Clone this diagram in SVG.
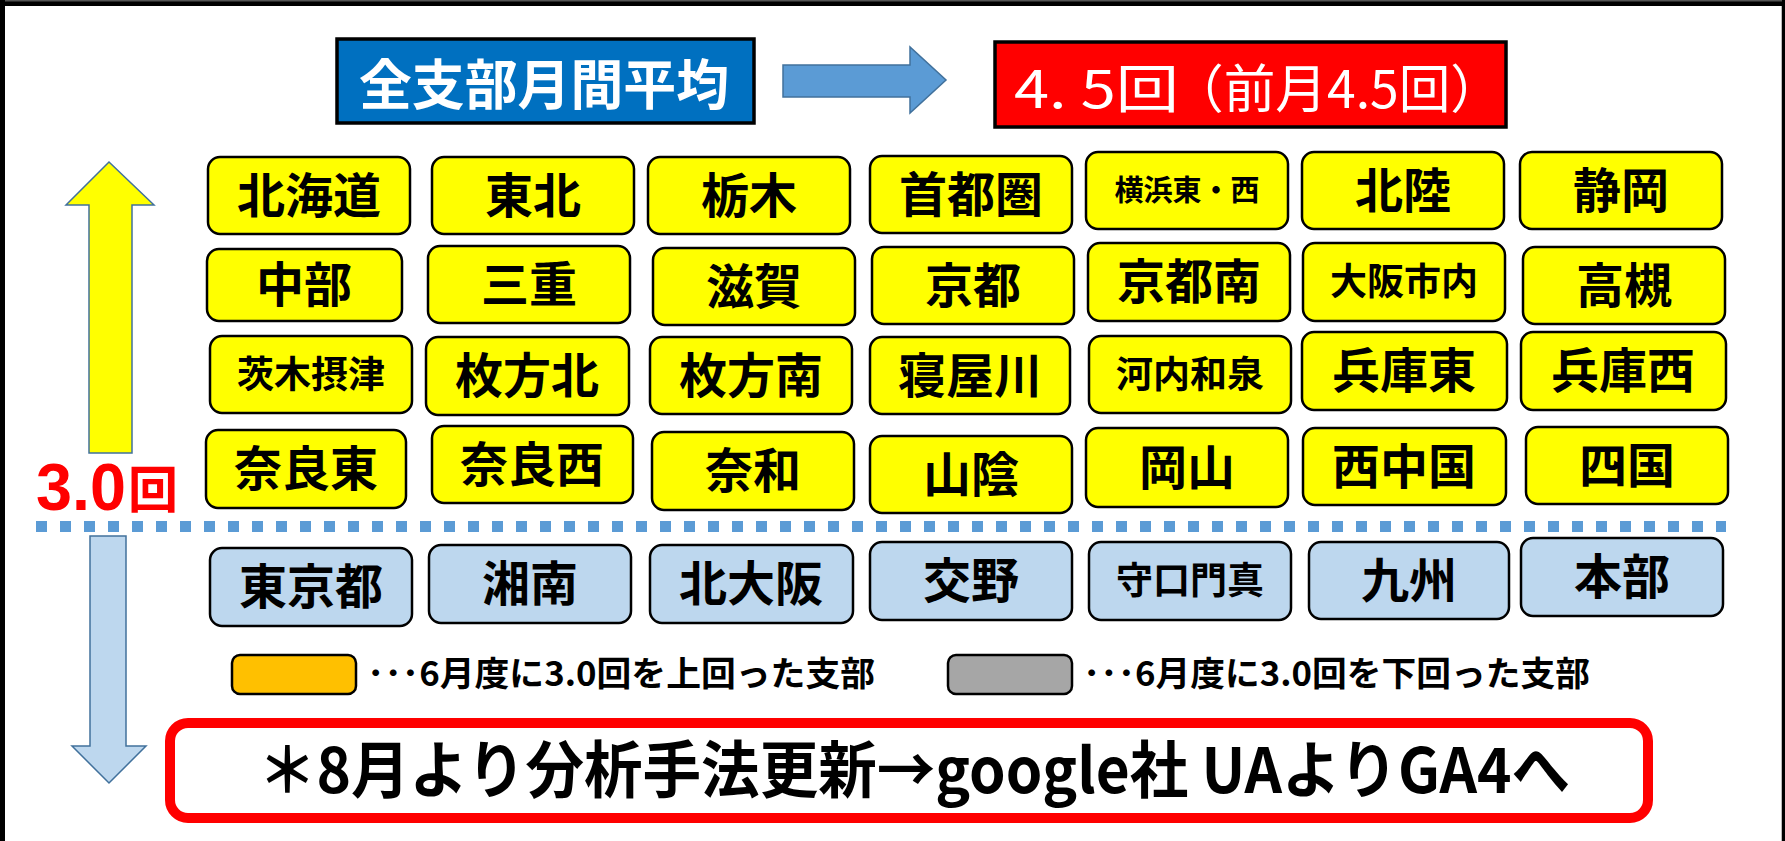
<svg xmlns="http://www.w3.org/2000/svg" width="1785" height="841" viewBox="0 0 1785 841">
<style>
.cjk{font-family:"Noto Sans CJK JP","Noto Sans CJK SC",sans-serif;}
.y{fill:#FFFF00;stroke:#000;stroke-width:2.5;}
.b{fill:#BDD7EE;stroke:#000;stroke-width:2.5;}
.t{font-family:"Noto Sans CJK JP",sans-serif;font-weight:700;font-size:48px;fill:#000;text-anchor:middle;}
.s{font-size:37px;}
.xs{font-size:29px;}
.lg{font-family:"Noto Sans CJK JP",sans-serif;font-weight:700;font-size:34px;fill:#000;}
</style>
<rect x="0" y="0" width="1785" height="841" fill="#fff"/>
<!-- frame -->
<rect x="0" y="0" width="1785" height="6" fill="#000"/>
<rect x="0" y="0" width="1785" height="1.5" fill="#555"/>
<rect x="0" y="0" width="5" height="841" fill="#000"/>
<rect x="1782" y="0" width="3" height="841" fill="#000"/>
<rect x="1781" y="6" width="1" height="835" fill="#bbb"/>

<!-- header -->
<g id="title">
<rect x="337" y="39" width="417" height="84" fill="#0070C0" stroke="#000" stroke-width="3.5"/>
<text x="359" y="105" class="cjk" font-weight="700" font-size="54" fill="#fff" textLength="370" lengthAdjust="spacingAndGlyphs">全支部月間平均</text>
</g>
<g id="value">
<rect x="995" y="42" width="511" height="85" fill="#FF0000" stroke="#000" stroke-width="3.5"/>
<text x="1014" y="108" class="cjk" font-size="52" fill="#fff" textLength="165" lengthAdjust="spacingAndGlyphs">4. 5回</text>
<text x="1172" y="108" class="cjk" font-size="52" fill="#fff" textLength="330" lengthAdjust="spacingAndGlyphs">（前月4.5回）</text>
</g>

<g id="arrows">
<polygon points="783,65 910,65 910,47 946,80 910,113 910,97 783,97" fill="#5B9BD5" stroke="#41719C" stroke-width="1.5"/>
<polygon points="109,162 154,205 132,205 132,453 89,453 89,205 66,205" fill="#FFFF00" stroke="#41719C" stroke-width="1.5"/>
<polygon points="90,536 126,536 126,746 146,746 109,783 72,746 90,746" fill="#BDD7EE" stroke="#41719C" stroke-width="1.5"/>
</g>

<g id="threshold">
<line x1="36" y1="526.5" x2="1726" y2="526.5" stroke="#5B9BD5" stroke-width="11" stroke-dasharray="11 13"/>
<text x="36" y="510" font-family="Liberation Sans,Arial,sans-serif" font-weight="700" font-size="67" fill="#FF0000" textLength="90" lengthAdjust="spacingAndGlyphs">3.0</text>
<text x="128" y="508" class="cjk" font-weight="700" font-size="50" fill="#FF0000">回</text>
</g>

<!-- row 1 -->
<g id="n-hokkaido"><rect class="y" x="208" y="157" width="202" height="77" rx="12"/><text class="t" x="309" y="213">北海道</text></g>
<g id="n-tohoku"><rect class="y" x="432" y="157" width="202" height="77" rx="12"/><text class="t" x="533" y="213">東北</text></g>
<g id="n-tochigi"><rect class="y" x="648" y="157" width="202" height="77" rx="12"/><text class="t" x="749" y="213">栃木</text></g>
<g id="n-shutoken"><rect class="y" x="870" y="156" width="202" height="77" rx="12"/><text class="t" x="971" y="212">首都圏</text></g>
<g id="n-yokohama"><rect class="y" x="1086" y="152" width="202" height="77" rx="12"/><text class="t xs" x="1187" y="201">横浜東・西</text></g>
<g id="n-hokuriku"><rect class="y" x="1302" y="152" width="202" height="77" rx="12"/><text class="t" x="1403" y="208">北陸</text></g>
<g id="n-shizuoka"><rect class="y" x="1520" y="152" width="202" height="77" rx="12"/><text class="t" x="1621" y="208">静岡</text></g>
<!-- row 2 -->
<g id="n-chubu"><rect class="y" x="207" y="249" width="195" height="72" rx="12"/><text class="t" x="304" y="302">中部</text></g>
<g id="n-mie"><rect class="y" x="428" y="246" width="202" height="77" rx="12"/><text class="t" x="529" y="302">三重</text></g>
<g id="n-shiga"><rect class="y" x="653" y="248" width="202" height="77" rx="12"/><text class="t" x="754" y="304">滋賀</text></g>
<g id="n-kyoto"><rect class="y" x="872" y="247" width="202" height="77" rx="12"/><text class="t" x="973" y="303">京都</text></g>
<g id="n-kyotominami"><rect class="y" x="1088" y="243" width="202" height="78" rx="12"/><text class="t" x="1189" y="299">京都南</text></g>
<g id="n-osakashinai"><rect class="y" x="1303" y="243" width="202" height="78" rx="12"/><text class="t s" x="1404" y="295">大阪市内</text></g>
<g id="n-takatsuki"><rect class="y" x="1523" y="247" width="202" height="77" rx="12"/><text class="t" x="1624" y="303">高槻</text></g>
<!-- row 3 -->
<g id="n-ibaraki"><rect class="y" x="210" y="336" width="202" height="77" rx="12"/><text class="t s" x="311" y="388">茨木摂津</text></g>
<g id="n-hirakatakita"><rect class="y" x="426" y="337" width="203" height="78" rx="12"/><text class="t" x="527" y="393">枚方北</text></g>
<g id="n-hirakataminami"><rect class="y" x="650" y="337" width="202" height="77" rx="12"/><text class="t" x="751" y="393">枚方南</text></g>
<g id="n-neyagawa"><rect class="y" x="870" y="337" width="200" height="77" rx="12"/><text class="t" x="970" y="393">寝屋川</text></g>
<g id="n-kawachi"><rect class="y" x="1089" y="336" width="202" height="77" rx="12"/><text class="t s" x="1190" y="388">河内和泉</text></g>
<g id="n-hyogohigashi"><rect class="y" x="1302" y="332" width="205" height="78" rx="12"/><text class="t" x="1404" y="388">兵庫東</text></g>
<g id="n-hyogonishi"><rect class="y" x="1521" y="332" width="205" height="78" rx="12"/><text class="t" x="1623" y="388">兵庫西</text></g>
<!-- row 4 -->
<g id="n-narahigashi"><rect class="y" x="206" y="430" width="200" height="78" rx="12"/><text class="t" x="306" y="486">奈良東</text></g>
<g id="n-naranishi"><rect class="y" x="432" y="426" width="201" height="77" rx="12"/><text class="t" x="532" y="482">奈良西</text></g>
<g id="n-nawa"><rect class="y" x="652" y="432" width="202" height="78" rx="12"/><text class="t" x="753" y="488">奈和</text></g>
<g id="n-sanin"><rect class="y" x="870" y="436" width="202" height="77" rx="12"/><text class="t" x="971" y="492">山陰</text></g>
<g id="n-okayama"><rect class="y" x="1086" y="428" width="202" height="79" rx="12"/><text class="t" x="1187" y="485">岡山</text></g>
<g id="n-nishichugoku"><rect class="y" x="1303" y="428" width="203" height="77" rx="12"/><text class="t" x="1404" y="484">西中国</text></g>
<g id="n-shikoku"><rect class="y" x="1526" y="427" width="202" height="77" rx="12"/><text class="t" x="1627" y="483">四国</text></g>
<!-- row 5 -->
<g id="n-tokyoto"><rect class="b" x="210" y="548" width="202" height="78" rx="12"/><text class="t" x="311" y="604">東京都</text></g>
<g id="n-shonan"><rect class="b" x="429" y="545" width="202" height="78" rx="12"/><text class="t" x="530" y="601">湘南</text></g>
<g id="n-kitaosaka"><rect class="b" x="650" y="545" width="203" height="78" rx="12"/><text class="t" x="751" y="601">北大阪</text></g>
<g id="n-katano"><rect class="b" x="870" y="542" width="202" height="78" rx="12"/><text class="t" x="971" y="598">交野</text></g>
<g id="n-moriguchi"><rect class="b" x="1089" y="542" width="202" height="78" rx="12"/><text class="t s" x="1190" y="594">守口門真</text></g>
<g id="n-kyushu"><rect class="b" x="1309" y="542" width="200" height="77" rx="12"/><text class="t" x="1409" y="598">九州</text></g>
<g id="n-honbu"><rect class="b" x="1521" y="538" width="202" height="78" rx="12"/><text class="t" x="1622" y="594">本部</text></g>

<!-- legend -->
<g id="legend-above">
<rect x="232" y="655" width="124" height="39" rx="8" fill="#FFC000" stroke="#000" stroke-width="2.5"/>
<text x="367" y="686" class="lg" textLength="508" lengthAdjust="spacingAndGlyphs">･･･6月度に3.0回を上回った支部</text>
</g>
<g id="legend-below">
<rect x="948" y="655" width="124" height="39" rx="8" fill="#A6A6A6" stroke="#000" stroke-width="2.5"/>
<text x="1083" y="686" class="lg" textLength="507" lengthAdjust="spacingAndGlyphs">･･･6月度に3.0回を下回った支部</text>
</g>

<g id="note">
<rect x="170" y="723" width="1478" height="95" rx="18" fill="#fff" stroke="#FF0000" stroke-width="10"/>
<text x="258" y="793" class="cjk" font-weight="700" font-size="62" fill="#000" textLength="1312" lengthAdjust="spacingAndGlyphs">＊8月より分析手法更新→google社 UAよりGA4へ</text>
</g>
</svg>
